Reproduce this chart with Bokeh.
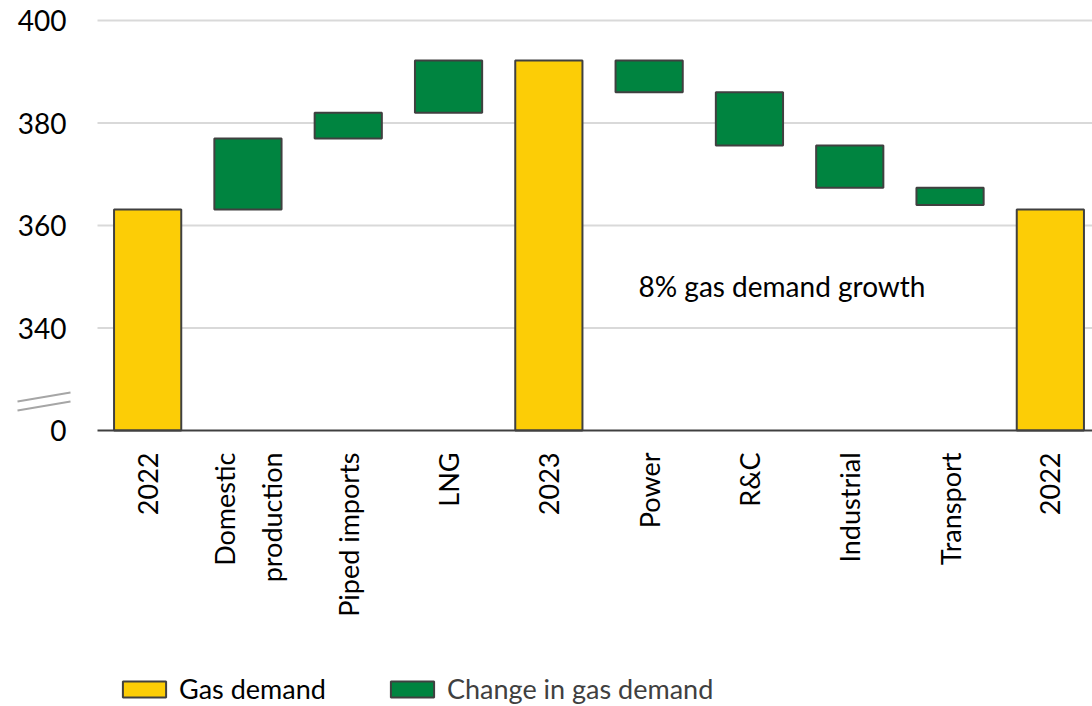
from bokeh.plotting import figure
from bokeh.models import ColumnDataSource, Range1d, Legend, LegendItem
from bokeh.core.properties import value
from bokeh.embed import file_html
from bokeh.resources import INLINE
import math

# ---- data ----
categories = ["2022", "Domestic\nproduction", "Piped imports", "LNG", "2023",
              "Power", "R&C", "Industrial", "Transport", "2022"]
kinds = ["total", "change", "change", "change", "total",
         "change", "change", "change", "change", "total"]
totals = {0: 363.1, 4: 392.2, 9: 363.1}
changes = {1: 13.9, 2: 5.0, 3: 10.2, 5: -6.2, 6: -10.4, 7: -8.25, 8: -3.35}
y_ticks = [0, 340, 360, 380, 400]
grid_ticks = [340, 360, 380, 400]
annotation = "8% gas demand growth"
legend_labels = ["Gas demand", "Change in gas demand"]

# broken axis: values >= 340 drawn as-is, 0 drawn at 320
BREAK_LOW = 320.0
def disp(v):
    return v if v >= 340 else BREAK_LOW + v

# ---- layout (pixel geometry of the canvas) ----
W, H = 1092, 706
X0_PX, XSCALE = 97.0, 100.3          # px of x=0, px per category
Y400_PX, YSCALE = 20.0, 5.125        # px of value 400, px per unit
def xd(px):  # canvas px -> data x
    return (px - X0_PX) / XSCALE
def yd(py):  # canvas px (from top) -> display y
    return 400.0 - (py - Y400_PX) / YSCALE

FONT = "Lato"
YELLOW = "#FCCD06"
GREEN = "#008440"
EDGE = "#404040"

tot_x, tot_top, tot_bot = [], [], []
chg_x, chg_top, chg_bot = [], [], []
level = 0.0
for i, k in enumerate(kinds):
    xc = i + 0.5
    if k == "total":
        level = totals[i]
        tot_x.append(xc); tot_top.append(disp(level)); tot_bot.append(disp(0))
    else:
        new = level + changes[i]
        chg_x.append(xc); chg_top.append(disp(max(level, new))); chg_bot.append(disp(min(level, new)))
        level = new

src_t = ColumnDataSource(dict(x=tot_x, top=tot_top, bottom=tot_bot))
src_c = ColumnDataSource(dict(x=chg_x, top=chg_top, bottom=chg_bot))

p = figure(width=W, height=H, output_backend="svg", toolbar_location=None,
           x_range=Range1d(xd(0), xd(W)), y_range=Range1d(yd(H), yd(0)),
           min_border=0)
p.outline_line_color = None
p.axis.visible = False
p.grid.visible = False
p.background_fill_color = "white"
p.border_fill_color = "white"

x_end = xd(W)

# grid lines
p.segment(x0=[0.0] * len(grid_ticks), x1=[x_end] * len(grid_ticks),
          y0=grid_ticks, y1=grid_ticks, line_color="#D9D9D9", line_width=2)

r_t = p.vbar(x="x", top="top", bottom="bottom", width=0.67, source=src_t,
             fill_color=YELLOW, line_color=EDGE, line_width=2)
r_c = p.vbar(x="x", top="top", bottom="bottom", width=0.67, source=src_c,
             fill_color=GREEN, line_color=EDGE, line_width=2)

# category axis line at 0
p.segment(x0=[0.0], x1=[x_end], y0=[disp(0)], y1=[disp(0)], line_color=EDGE, line_width=2)

# y tick labels
p.text(x=[xd(66)] * len(y_ticks), y=[disp(t) for t in y_ticks], text=[str(t) for t in y_ticks],
       text_font=value(FONT), text_font_size="28px", text_align="right",
       text_baseline="middle", text_color="black")

# axis break marks
p.segment(x0=[xd(17), xd(17)], y0=[yd(401), yd(410)], x1=[xd(70), xd(70)], y1=[yd(392), yd(401)],
          line_color="#A6A6A6", line_width=2)

# category labels (rotated)
p.text(x=[i + 0.5 for i in range(len(categories))], y=[yd(452)] * len(categories),
       text=categories, angle=math.pi / 2, text_font=value(FONT), text_font_size="27px",
       text_align="right", text_baseline="middle", text_color="black",
       text_line_height=1.45)

# annotation
p.text(x=[xd(638)], y=[yd(285)], text=[annotation], text_font=value(FONT),
       text_font_size="28px", text_align="left", text_baseline="middle",
       text_color="black")

common = dict(orientation="horizontal", glyph_width=54, glyph_height=20, label_standoff=8,
              label_text_font=FONT, label_text_font_size="27px",
              border_line_color=None, background_fill_alpha=0, margin=0, padding=0,
              label_height=20)
leg1 = Legend(items=[LegendItem(label=legend_labels[0], renderers=[r_t])],
              location=(117, 1), label_text_color="black", **common)
leg2 = Legend(items=[LegendItem(label=legend_labels[1], renderers=[r_c])],
              location=(385, 1), label_text_color="#404040", **common)
p.add_layout(leg1)
p.add_layout(leg2)

open("out.html", "w").write(file_html(p, INLINE))
